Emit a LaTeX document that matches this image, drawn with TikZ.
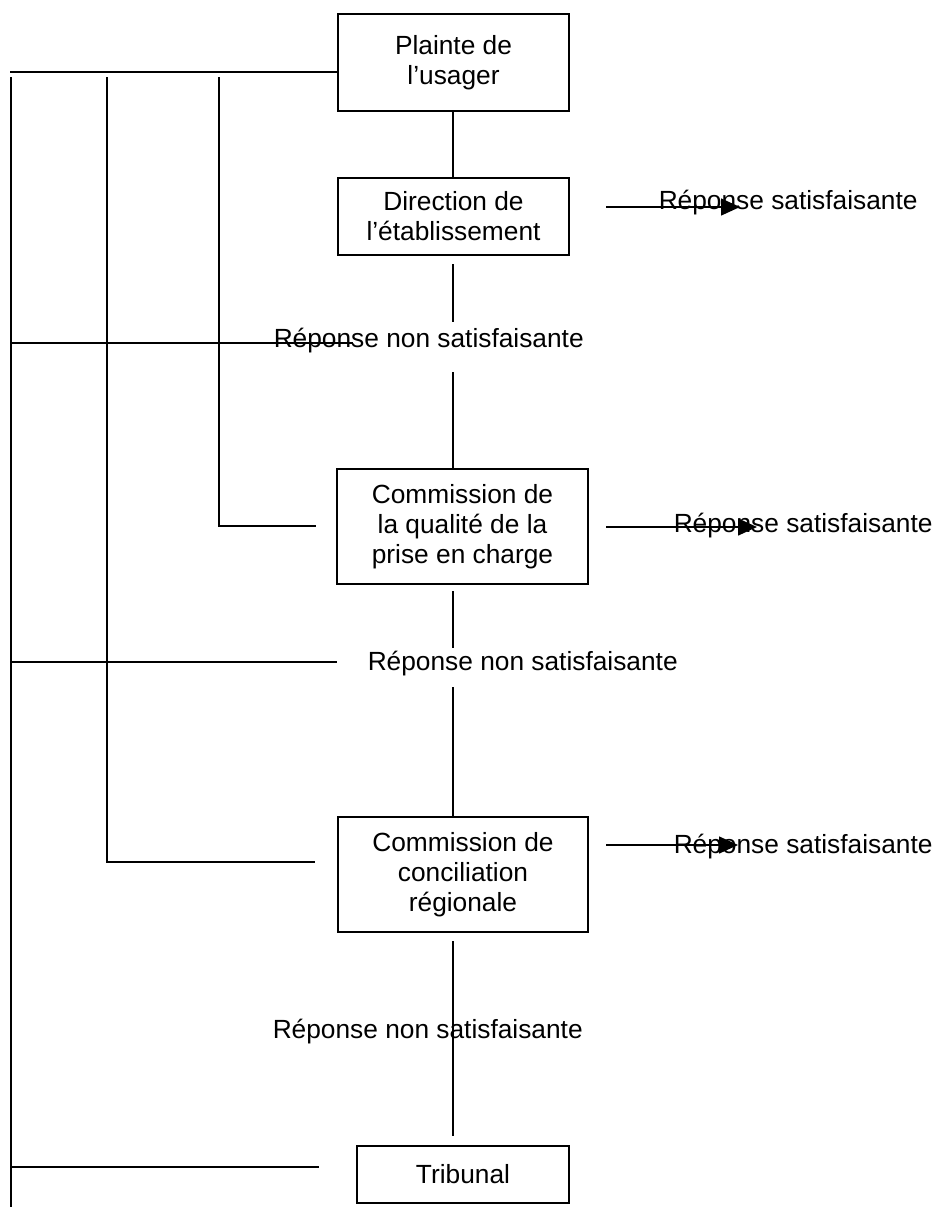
\documentclass[tikz,border=0pt]{standalone}
\usepackage{fontspec}
\setmainfont{Liberation Sans}
\usepackage{tikz}
\usetikzlibrary{arrows.meta}

\begin{document}
\begin{tikzpicture}[x=1pt,y=-1pt,line width=1.5pt,
  box/.style={draw,align=center,inner sep=0pt,font=\fontsize{26.3}{30}\selectfont},
  lbl/.style={inner sep=0pt,anchor=base west,font=\fontsize{26.3}{30}\selectfont},
  arr/.style={-{Triangle[length=19pt,width=17pt]}}]
\useasboundingbox (0,0) rectangle (938,1207);
% boxes
\node[box,minimum width=231pt,minimum height=97pt] (plainte) at (453.5,62.5) {Plainte de\\l’usager};
\node[box,minimum width=231pt,minimum height=77pt] (direction) at (453.5,216.5) {Direction de\\l’établissement};
\node[box,minimum width=251pt,minimum height=115pt] (qualite) at (462.5,526.5) {Commission de\\la qualité de la\\prise en charge};
\node[box,minimum width=250pt,minimum height=115pt] (conciliation) at (463,874.5) {Commission de\\conciliation\\régionale};
\node[box,minimum width=212pt,minimum height=57pt] (tribunal) at (463,1174.5) {Tribunal};
% answers
\node[lbl] (nsat1) at (273,347) {Réponse non satisfaisante};
\node[lbl] (nsat2) at (367,670) {Réponse non satisfaisante};
\node[lbl] (nsat3) at (272,1038) {Réponse non satisfaisante};
\node[lbl] (sat1) at (658,209) {Réponse satisfaisante};
\node[lbl] (sat2) at (673,532) {Réponse satisfaisante};
\node[lbl] (sat3) at (673,853) {Réponse satisfaisante};
% main line
\coordinate (d1) at (453,264); \coordinate (d2) at (453,322); \coordinate (d3) at (453,372);
\coordinate (q1) at (453,591); \coordinate (q2) at (453,648); \coordinate (q3) at (453,687);
\coordinate (c1) at (453,941); \coordinate (c2) at (453,1136);
\draw (plainte.south -| d1) -- (direction.north -| d1);
\draw (d1) -- (d2); \draw (d3) -- (d3 |- qualite.north);
\draw (q1) -- (q2); \draw (q3) -- (q3 |- conciliation.north);
\draw (c1) -- (c2);
% left rails
\coordinate (top) at (10,72);
\coordinate (ra) at (11,77); \coordinate (raend) at (11,1207);
\coordinate (rb) at (107,77); \coordinate (cl) at (315,862);
\coordinate (rc) at (219,77); \coordinate (ql) at (316,526);
\coordinate (h1) at (11,343); \coordinate (h1end) at (353,343);
\coordinate (h2) at (11,662);
\coordinate (h3) at (11,1167); \coordinate (h3end) at (319,1167);
\draw (top) -- (top -| plainte.west);
\draw (ra) -- (raend);
\draw (rb) |- (cl);
\draw (rc) |- (ql);
\draw (h1) -- (h1end);
\draw (h2) -- (h2 -| conciliation.west);
\draw (h3) -- (h3end);
% arrows to the right
\coordinate (a1) at (606,207); \coordinate (a1t) at (740,207);
\coordinate (a2) at (606,527); \coordinate (a2t) at (757,527);
\coordinate (a3) at (606,845); \coordinate (a3t) at (738,845);
\draw[arr] (a1) -- (a1t);
\draw[arr] (a2) -- (a2t);
\draw[arr] (a3) -- (a3t);
\end{tikzpicture}
\end{document}
